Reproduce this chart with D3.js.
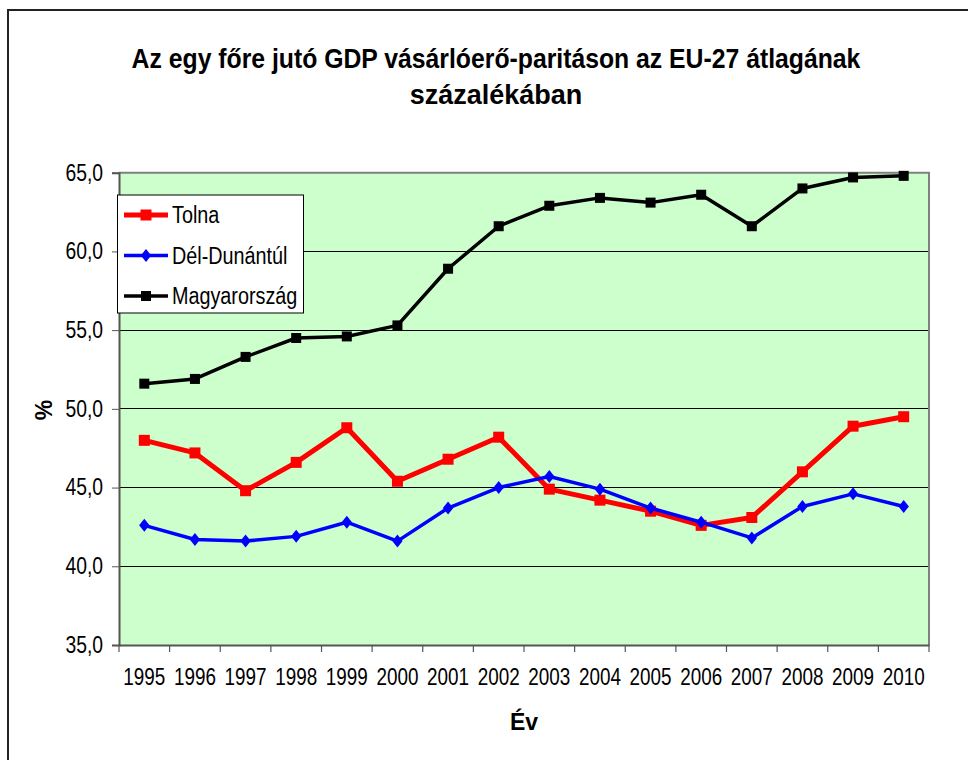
<!DOCTYPE html>
<html><head><meta charset="utf-8">
<script src="https://cdn.jsdelivr.net/npm/d3@7"></script>
<style>body{margin:0;background:#fff}svg{display:block}</style>
</head><body>
<svg id="c" width="968" height="760"></svg>
<script>
const years = ["1995","1996","1997","1998","1999","2000","2001","2002","2003","2004","2005","2006","2007","2008","2009","2010"];
const tolna = [48.0,47.2,44.8,46.6,48.8,45.4,46.8,48.2,44.9,44.2,43.5,42.6,43.1,46.0,48.9,49.5];
const delDunantul = [42.6,41.7,41.6,41.9,42.8,41.6,43.7,45.0,45.7,44.9,43.7,42.8,41.8,43.8,44.6,43.8];
const magyarorszag = [51.6,51.9,53.3,54.5,54.6,55.3,58.9,61.6,62.9,63.4,63.1,63.6,61.6,64.0,64.7,64.8];
const yTicks = [35,40,45,50,55,60,65];
const seriesNames = ["Tolna","Dél-Dunántúl","Magyarország"];
const titleLines = ["Az egy főre jutó GDP vásárlóerő-paritáson az EU-27 átlagának","százalékában"];

const FONT = "'Liberation Sans',Arial,sans-serif";
const svg = d3.select("#c");
const m = {l:119, r:929, t:172.7, b:645};

function narrow(sel, k){
  sel.each(function(){
    const L = this.getComputedTextLength();
    d3.select(this).attr("textLength", L*k).attr("lengthAdjust","spacingAndGlyphs");
  });
}

// outer frame
svg.append("rect").attr("x",8).attr("y",10).attr("width",980).attr("height",800)
  .attr("fill","none").attr("stroke","#222").attr("stroke-width",2);

const x = d3.scaleBand().domain(years).range([m.l,m.r]);
const y = d3.scaleLinear().domain([35,65]).range([m.b,m.t]);

svg.append("rect").attr("x",m.l).attr("y",m.t).attr("width",m.r-m.l).attr("height",m.b-m.t)
  .attr("fill","#CCFFCC");

// gridlines
svg.append("g").selectAll("line").data(yTicks.filter(d=>d>35 && d<65)).join("line")
  .attr("x1",m.l).attr("x2",m.r).attr("y1",d=>y(d)).attr("y2",d=>y(d))
  .attr("stroke","#000").attr("stroke-width",1).attr("shape-rendering","crispEdges");
// plot border top/right gray
svg.append("path").attr("d",`M${m.l},${m.t}H${m.r}V${m.b}`).attr("fill","none")
  .attr("stroke","#808080").attr("stroke-width",2);

// y axis
const ya = svg.append("g").attr("transform",`translate(${m.l},0)`)
  .call(d3.axisLeft(y).tickValues(yTicks).tickSize(7).tickPadding(9).tickFormat(d=>d3.format(".1f")(d).replace(".",",")));
ya.select(".domain").attr("stroke","#555").attr("stroke-width",2);
ya.selectAll(".tick line").attr("stroke","#555");
ya.selectAll("text").attr("font-family",FONT).attr("font-size",23).attr("fill","#000");
narrow(ya.selectAll("text"),0.84);

// x axis
const xa = svg.append("g").attr("transform",`translate(0,${m.b})`)
  .call(d3.axisBottom(x).tickSize(0).tickPadding(24));
xa.select(".domain").attr("stroke","#555").attr("stroke-width",2);
xa.selectAll("text").attr("font-family",FONT).attr("font-size",23).attr("fill","#000");
narrow(xa.selectAll("text"),0.82);
// category boundary ticks
svg.append("g").selectAll("line").data(years.concat(["end"])).join("line")
  .attr("x1",(d,i)=>m.l+i*x.step()).attr("x2",(d,i)=>m.l+i*x.step())
  .attr("y1",m.b).attr("y2",m.b+7).attr("stroke","#555").attr("stroke-width",1.2);

const cx = d => x(d)+x.bandwidth()/2;
const line = d3.line().x((d,i)=>cx(years[i])).y(d=>y(d));

const defs = [
  {name:seriesNames[0], data:tolna, color:"#FF0000", w:5, marker:"square", ms:11},
  {name:seriesNames[1], data:delDunantul, color:"#0000FF", w:3.5, marker:"diamond", ms:13},
  {name:seriesNames[2], data:magyarorszag, color:"#000000", w:3.5, marker:"square", ms:10}
];
function drawMarker(g, type, size, color){
  if(type==="square"){
    g.append("rect").attr("x",-size/2).attr("y",-size/2).attr("width",size).attr("height",size).attr("fill",color);
  } else {
    const s=size/2;
    g.append("path").attr("d",`M0,${-s}L${s*0.8},0L0,${s}L${-s*0.8},0Z`).attr("fill",color);
  }
}
defs.forEach(s=>{
  const g = svg.append("g");
  g.append("path").datum(s.data).attr("d",line).attr("fill","none").attr("stroke",s.color)
    .attr("stroke-width",s.w).attr("stroke-linejoin","round");
  s.data.forEach((v,i)=>{
    const mg = g.append("g").attr("transform",`translate(${cx(years[i])},${y(v)})`);
    drawMarker(mg,s.marker,s.ms,s.color);
  });
});

// legend
const lg = svg.append("g");
lg.append("rect").attr("x",117.5).attr("y",195).attr("width",186).attr("height",118)
  .attr("fill","#fff").attr("stroke","#000").attr("stroke-width",1);
defs.forEach((s,i)=>{
  const yy = 215+i*40.5;
  lg.append("line").attr("x1",124).attr("x2",168).attr("y1",yy).attr("y2",yy)
    .attr("stroke",s.color).attr("stroke-width",s.w);
  const mg = lg.append("g").attr("transform",`translate(146,${yy})`);
  drawMarker(mg,s.marker,s.ms,s.color);
  const t = lg.append("text").attr("x",172).attr("y",yy+8).text(s.name)
    .attr("font-family",FONT).attr("font-size",23).attr("fill","#000");
  narrow(t,0.86);
});

// title
const titleK = [0.917, 1.0];
titleLines.forEach((t,i)=>{
  const tt = svg.append("text").attr("x",496).attr("y",68+i*36).attr("text-anchor","middle")
    .attr("font-family",FONT).attr("font-weight","bold").attr("font-size",27).attr("fill","#000").text(t);
  narrow(tt,titleK[i]);
});
// axis titles
svg.append("text").attr("x",524).attr("y",730).attr("text-anchor","middle")
  .attr("font-family",FONT).attr("font-weight","bold").attr("font-size",23).text("Év");
svg.append("text").attr("transform","translate(52,410) rotate(-90)").attr("text-anchor","middle")
  .attr("font-family",FONT).attr("font-weight","bold").attr("font-size",23).text("%");
</script>
</body></html>
